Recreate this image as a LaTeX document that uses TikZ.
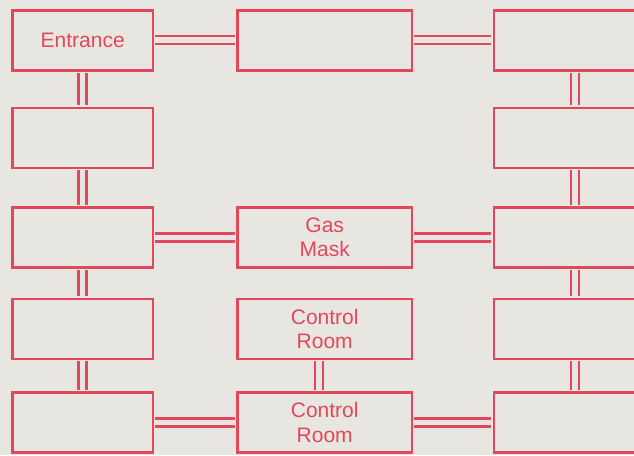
\documentclass[tikz,border=0pt]{standalone}
\usepackage{fontspec}
\setmainfont{Liberation Sans}
\usetikzlibrary{positioning}
\definecolor{MapRed}{HTML}{E2475A}
\definecolor{PaperGrey}{HTML}{E8E6E1}

\begin{document}
\begin{tikzpicture}[
  roombox/.style={draw=MapRed,line width=1.9pt,text=MapRed,minimum width=105.4pt,minimum height=45pt,inner sep=0pt,align=center,font=\fontsize{15.75}{18.5}\selectfont},
  widebox/.style={roombox,minimum width=130.9pt},
  sidebox/.style={roombox,minimum width=122pt},
  passage/.style={draw=MapRed,line width=1.8pt,double=PaperGrey,double distance=4.2pt,shorten <=0.9pt,shorten >=0.9pt}]
\useasboundingbox (0,0) rectangle (475.5pt,-341.25pt);
\clip (0,0) rectangle (475.5pt,-341.25pt);
\fill[PaperGrey] (0,0) rectangle (475.5pt,-341.25pt);
% left column
\node[roombox] (l1) at (62pt,-30.2pt) {Entrance};
\node[roombox,below=26.25pt of l1] (l2) {};
\node[roombox,below=27.75pt of l2] (l3) {};
\node[roombox,below=21.75pt of l3] (l4) {};
\node[roombox,below=23.25pt of l4] (l5) {};
% middle column
\node[widebox,right=61.5pt of l1] (m1) {};
\node[widebox,right=61.5pt of l3] (m3) {Gas\\Mask};
\node[widebox,below=21.75pt of m3] (m4) {Control\\Room};
\node[widebox,right=61.5pt of l5] (m5) {Control\\Room};
% right column
\node[sidebox,right=59.5pt of m1] (r1) {};
\node[sidebox,below=26.25pt of r1] (r2) {};
\node[sidebox,below=27.75pt of r2] (r3) {};
\node[sidebox,below=21.75pt of r3] (r4) {};
\node[sidebox,below=23.25pt of r4] (r5) {};
% passages
\draw[passage] (l1) -- (m1);
\draw[passage] (m1) -- (r1);
\draw[passage] (l3) -- (m3);
\draw[passage] (m3) -- (r3);
\draw[passage] (l5) -- (m5);
\draw[passage] (m5) -- (r5);
\draw[passage] (l1) -- (l2);
\draw[passage] (l2) -- (l3);
\draw[passage] (l3) -- (l4);
\draw[passage] (l4) -- (l5);
\draw[passage] (r1) -- (r2);
\draw[passage] (r2) -- (r3);
\draw[passage] (r3) -- (r4);
\draw[passage] (r4) -- (r5);
\draw[passage] ([xshift=-4.5pt]m4.south) -- ([xshift=-4.5pt]m5.north);
\end{tikzpicture}
\end{document}
